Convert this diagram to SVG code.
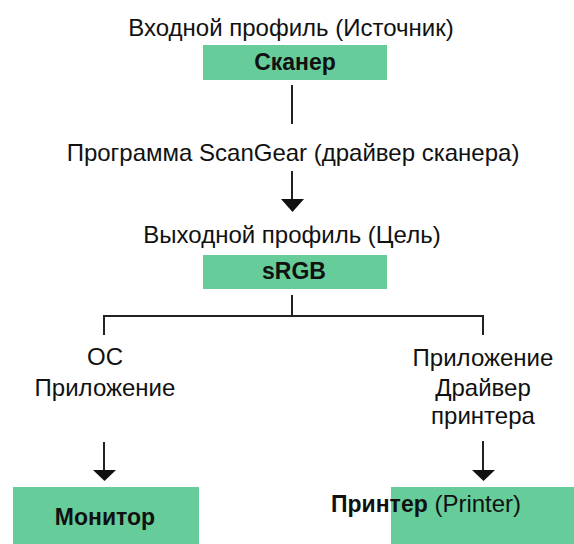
<svg xmlns="http://www.w3.org/2000/svg" width="574" height="544" viewBox="0 0 574 544">
<style>
.t{font-family:"Liberation Sans",Arial,sans-serif;font-size:24px;fill:#111;}
.b{font-family:"Liberation Sans",Arial,sans-serif;font-size:23px;font-weight:bold;fill:#111;}
.box{fill:#66CC99;}
.ln{stroke:#222;stroke-width:2;fill:none;}
.ah{fill:#111;}
</style>
<rect width="574" height="544" fill="#fff"/>
<g id="label-input">
<text class="t" x="291" y="36" text-anchor="middle">Входной профиль (Источник)</text>
</g>
<g id="scanner">
<rect class="box" x="203" y="45" width="184" height="35"/>
<text class="b" x="295" y="70" text-anchor="middle">Сканер</text>
</g>
<g id="label-scangear">
<text class="t" x="293" y="161" text-anchor="middle">Программа ScanGear (драйвер сканера)</text>
</g>
<g id="label-output">
<text class="t" x="292" y="243" text-anchor="middle">Выходной профиль (Цель)</text>
</g>
<g id="srgb">
<rect class="box" x="203" y="255" width="184" height="34"/>
<text class="b" x="294" y="279" text-anchor="middle">sRGB</text>
</g>
<g id="label-os">
<text class="t" x="105" y="365" text-anchor="middle">ОС</text>
<text class="t" x="105" y="396" text-anchor="middle">Приложение</text>
</g>
<g id="label-app">
<text class="t" x="483" y="366" text-anchor="middle">Приложение</text>
<text class="t" x="483" y="396" text-anchor="middle">Драйвер</text>
<text class="t" x="483" y="424" text-anchor="middle">принтера</text>
</g>
<g id="monitor">
<rect class="box" x="13" y="487" width="186" height="57"/>
<text class="b" x="105" y="525" text-anchor="middle">Монитор</text>
</g>
<g id="printer">
<rect class="box" x="391" y="487" width="183" height="57"/>
<text class="t" x="331" y="512"><tspan class="b">Принтер</tspan> (Printer)</text>
</g>
<g id="connectors">
<line class="ln" x1="292" y1="85" x2="292" y2="124"/>
<line class="ln" x1="292" y1="171" x2="292" y2="200"/>
<polygon class="ah" points="281,199 304,199 292.5,212"/>
<polyline class="ln" points="104,335 104,316 483,316 483,335"/>
<line class="ln" x1="292" y1="295" x2="292" y2="316"/>
<line class="ln" x1="104" y1="442" x2="104" y2="471"/>
<polygon class="ah" points="93,470 116,470 104.5,481"/>
<line class="ln" x1="483" y1="441" x2="483" y2="471"/>
<polygon class="ah" points="472,470 495,470 483.5,481"/>
</g>
</svg>
